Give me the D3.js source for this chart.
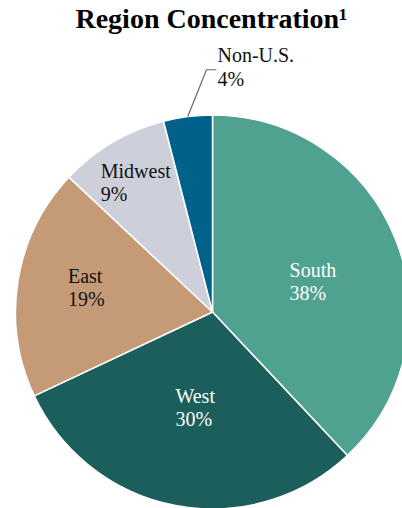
<!DOCTYPE html>
<html>
  <head>
    <meta charset="utf-8" />
    <title>Region Concentration</title>
    <script src="https://d3js.org/d3.v7.min.js"></script>
    <style>
      body { margin: 0; background: #fff; }
    </style>
  </head>
  <body>
    <script>
      const regions = ['South', 'West', 'East', 'Midwest', 'Non-U.S.'];
      const shares = [38, 30, 19, 9, 4];
      const colors = ['#4ea28f', '#1c5e5b', '#c59b77', '#cdd0da', '#00618b'];
      const labelColors = ['#fff', '#fff', '#111', '#111', '#111'];
      // label distance from centre (share of radius) and angle nudge in degrees
      // null radius = outside label with a leader line
      const labelRadius = [0.535, 0.485, 0.654, 0.77, null];
      const labelNudge = [3.9, -0.5, 2.6, 0.3, 0];

      const font = 'Liberation Serif';
      const w = 402;
      const h = 508;
      const cx = 212.5;
      const cy = 312;
      const r = 197;

      const svg = d3.select('body').append('svg').attr('width', w).attr('height', h);

      svg
        .append('text')
        .attr('x', cx - 1)
        .attr('y', 28)
        .attr('text-anchor', 'middle')
        .attr('font-family', font)
        .attr('font-size', 28)
        .attr('font-weight', 'bold')
        .text('Region Concentration¹');

      const data = regions.map((name, i) => ({ name: name, value: shares[i], i: i }));

      const pie = d3.pie().sort(null).value((d) => d.value);
      const arc = d3.arc().innerRadius(0).outerRadius(r);
      const arcs = pie(data);

      const g = svg.append('g').attr('transform', 'translate(' + cx + ',' + cy + ')');

      g.selectAll('path')
        .data(arcs)
        .enter()
        .append('path')
        .attr('d', arc)
        .attr('fill', (d) => colors[d.data.i])
        .attr('stroke', '#fff')
        .attr('stroke-width', 1.5)
        .attr('stroke-linejoin', 'round');

      // inside labels, two lines, left aligned, block centred on a polar point
      arcs.forEach((d) => {
        const k = labelRadius[d.data.i];
        if (k == null) return;
        const a = (d.startAngle + d.endAngle) / 2 + (labelNudge[d.data.i] * Math.PI) / 180;
        const c = [Math.sin(a) * k * r, -Math.cos(a) * k * r];
        const t = g
          .append('text')
          .attr('fill', labelColors[d.data.i])
          .attr('font-family', font)
          .attr('font-size', 20);
        t.append('tspan').attr('x', 0).attr('y', c[1] - 3).text(d.data.name);
        t.append('tspan').attr('x', 0).attr('y', c[1] + 20).text(d.data.value + '%');
        const bw = t.node().getBBox().width;
        t.selectAll('tspan').attr('x', c[0] - bw / 2);
      });

      // outside label with leader line for the small slice
      arcs
        .filter((d) => labelRadius[d.data.i] == null)
        .forEach((d) => {
          const mid = (d.startAngle + d.endAngle) / 2;
          const p0 = [Math.sin(mid) * r, -Math.cos(mid) * r];
          const elbowAngle = -0.025;
          const elbowR = r * 1.23;
          const p1 = [Math.sin(elbowAngle) * elbowR, -Math.cos(elbowAngle) * elbowR];
          const p2 = [p1[0] + 10, p1[1]];
          g.append('path')
            .attr('d', d3.line()([p0, p1, p2]))
            .attr('fill', 'none')
            .attr('stroke', '#666')
            .attr('stroke-width', 1.2);
          const t = g
            .append('text')
            .attr('fill', labelColors[d.data.i])
            .attr('font-family', font)
            .attr('font-size', 20);
          t.append('tspan').attr('x', p2[0] + 1).attr('y', p1[1] - 8).text(d.data.name);
          t.append('tspan').attr('x', p2[0] + 1).attr('y', p1[1] + 16).text(d.data.value + '%');
        });
    </script>
  </body>
</html>
